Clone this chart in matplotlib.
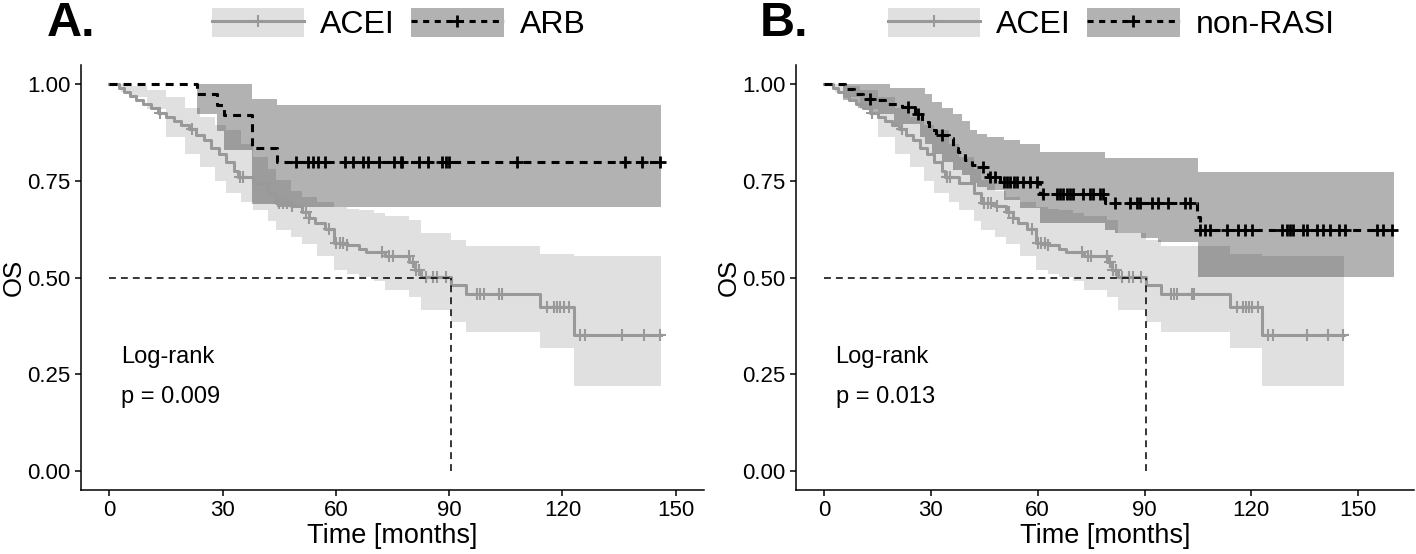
import numpy as np
import matplotlib.pyplot as plt
from matplotlib.lines import Line2D
from matplotlib.patches import Patch
from matplotlib.legend_handler import HandlerTuple

plt.rcParams['font.family'] = ['Liberation Sans', 'DejaVu Sans']

# ACEI (same curve in both panels)
acei_t = [0, 2.5, 4, 5.5, 7, 9, 11, 13, 15, 17, 19, 21, 23, 25, 27, 29, 31, 33, 34,
          38, 42, 44.2, 48, 51, 53, 54.5, 57, 59.5, 63, 66, 68, 73, 79.5, 81, 82.5,
          90.5, 94.5, 114, 123]
acei_s = [1.0, 0.99, 0.98, 0.97, 0.96, 0.95, 0.94, 0.925, 0.915, 0.905, 0.895, 0.885,
          0.87, 0.855, 0.835, 0.82, 0.80, 0.775, 0.76, 0.745, 0.72, 0.692, 0.685, 0.67,
          0.655, 0.64, 0.625, 0.59, 0.585, 0.575, 0.565, 0.555, 0.54, 0.52, 0.502,
          0.481, 0.457, 0.423, 0.350]
acei_ci_t = [0, 3, 6, 10, 15, 20, 24, 28, 31, 35, 38, 42, 44.2, 48, 51, 55, 59.5, 63,
             66, 70, 73, 79.5, 82.5, 90.5, 94.5, 114, 123]
acei_hi = [1.0, 1.0, 0.995, 0.985, 0.967, 0.94, 0.915, 0.895, 0.881, 0.845, 0.812,
           0.78, 0.752, 0.725, 0.709, 0.695, 0.683, 0.678, 0.674, 0.667, 0.66, 0.65,
           0.614, 0.597, 0.581, 0.562, 0.556]
acei_lo = [1.0, 0.98, 0.967, 0.935, 0.864, 0.82, 0.786, 0.75, 0.718, 0.695, 0.674,
           0.645, 0.623, 0.605, 0.588, 0.555, 0.519, 0.51, 0.502, 0.49, 0.468, 0.45,
           0.416, 0.386, 0.36, 0.317, 0.22]
acei_cens = [13.5, 21.8, 34.6, 35.4, 45, 46, 47, 48.5, 52, 53, 58.3, 60, 61, 62, 63,
             72.3, 74, 75, 79.4, 80.3, 81.2, 82, 83.8, 85.6, 86.9, 89.1, 97.4, 98.3,
             99.2, 103.2, 104.0, 115.9, 117.7, 118.6, 119.4, 120.3, 121.8, 124.7, 126,
             135.7, 141.6, 145.8]
acei_end = 146

# ARB (panel A)
arb_t = [0, 23.1, 28.5, 30.5, 37.7, 44.3]
arb_s = [1.0, 0.974, 0.947, 0.92, 0.835, 0.80]
arb_ci_t = [0, 23.1, 28.5, 30.5, 37.7, 44.3]
arb_hi = [1.0, 1.0, 1.0, 1.0, 0.963, 0.946]
arb_lo = [1.0, 0.924, 0.88, 0.829, 0.69, 0.683]
arb_cens = [49.5, 52.6, 53.9, 55.2, 57, 62.3, 64.5, 67.1, 68.4, 71.5, 75.5, 77.2, 77.6,
            82, 84.3, 88.2, 89.1, 90, 108, 136.6, 141, 145.8]
arb_end = 146

# non-RASI (panel B)
nr_t = [0, 6, 8.5, 11, 15, 17, 22, 25.5, 27.5, 29.5, 31.5, 35, 36.2, 37.5, 39.5, 41.5,
        44, 46, 49.5, 60.7, 79, 104.7, 105.5]
nr_s = [1.0, 0.989, 0.976, 0.963, 0.959, 0.950, 0.941, 0.924, 0.903, 0.881, 0.868,
        0.860, 0.834, 0.825, 0.804, 0.791, 0.786, 0.760, 0.748, 0.716, 0.692, 0.657,
        0.623]
nr_ci_t = [0, 5.4, 9.6, 12.9, 18.5, 19.5, 27, 28.4, 30.2, 33, 36.3, 38.7, 41, 42.9,
           45.7, 50.4, 55, 60.7, 79, 81.7, 89, 93.9, 105.1]
nr_hi = [1.0, 1.0, 1.0, 1.0, 0.99, 0.99, 0.99, 0.975, 0.955, 0.94, 0.924, 0.905, 0.881,
         0.872, 0.864, 0.855, 0.845, 0.825, 0.81, 0.81, 0.81, 0.81, 0.773]
nr_lo = [1.0, 0.959, 0.94, 0.924, 0.924, 0.898, 0.864, 0.845, 0.82, 0.80, 0.778, 0.765,
         0.745, 0.735, 0.726, 0.70, 0.68, 0.64, 0.623, 0.614, 0.601, 0.592, 0.502]
nr_cens = [12.9, 23.7, 26.5, 33.1, 44.7, 46.6, 48, 50.4, 51.3, 52.2, 53.2, 54.1, 56,
           57.9, 59.7, 61.6, 65.4, 66.3, 67.2, 68.2, 69.1, 70, 72.8, 74.7, 75.6, 77.5,
           78.4, 81.7, 86, 87.8, 88.8, 92, 93.9, 96.7, 101.4, 102.8, 105.6, 107, 108.4,
           113.1, 116.4, 118.3, 120.1, 128.6, 130, 130.9, 131.8, 134.6, 135.6, 138.4,
           140.2, 142.1, 144.5, 146.3, 155.2, 157.1, 159.5]
nr_end = 160

median_acei = 90.5
pvals = ['p = 0.009', 'p = 0.013']

GRAY = '#999999'


def ext(t, v, end):
    return np.append(t, end), np.append(v, v[-1])


def draw_curve(ax, t, s, ci_t, lo, hi, cens, end, color, dashed):
    tt, hh = ext(ci_t, hi, end)
    _, ll = ext(ci_t, lo, end)
    ax.fill_between(tt, ll, hh, step='post', color=color, alpha=0.3, lw=0, zorder=1)
    ts, ss = ext(t, s, end)
    kw = dict(color=color, lw=2.2, zorder=3)
    if dashed:
        kw['dashes'] = (2.6, 2.0)
    ax.step(ts, ss, where='post', **kw)
    # censor marks sit on the step function
    idx = np.searchsorted(t, cens, side='right') - 1
    ax.plot(cens, np.array(s)[idx], ls='none', marker='+', ms=9,
            mew=2.0 if dashed else 1.5, color=color, zorder=4)


def panel(ax, other, label, xlim):
    draw_curve(ax, acei_t, acei_s, acei_ci_t, acei_lo, acei_hi, acei_cens, acei_end,
               GRAY, False)
    draw_curve(ax, *other, 'black', True)

    # median survival lines
    ax.plot([0, median_acei], [0.5, 0.5], color='black', lw=1.1, dashes=(4.5, 3.3), zorder=5)
    ax.plot([median_acei, median_acei], [0, 0.5], color='black', lw=1.1, dashes=(4.5, 3.3), zorder=5)

    ax.set_xlim(*xlim)
    ax.set_ylim(-0.05, 1.05)
    ax.set_xticks([0, 30, 60, 90, 120, 150])
    ax.set_yticks([0, 0.25, 0.5, 0.75, 1.0])
    ax.set_yticklabels(['0.00', '0.25', '0.50', '0.75', '1.00'])
    for sp in ['top', 'right']:
        ax.spines[sp].set_visible(False)
    for sp in ['left', 'bottom']:
        ax.spines[sp].set_linewidth(1.1)
    ax.tick_params(labelsize=16, length=4, width=1.1, colors='black')
    ax.set_xlabel('Time [months]', fontsize=19.5, labelpad=1)
    ax.set_ylabel('OS', fontsize=18.5, labelpad=1)

    h1 = (Patch(facecolor=GRAY, alpha=0.3, lw=0),
          Line2D([], [], color=GRAY, lw=2.2, marker='+', ms=9, mew=1.5))
    h2 = (Patch(facecolor='black', alpha=0.3, lw=0),
          Line2D([], [], color='black', lw=2.2, dashes=(2.0, 1.8), marker='+', ms=9, mew=2))
    ax.legend([h1, h2], ['ACEI', label], ncol=2, frameon=False, loc='center',
              bbox_to_anchor=(0.51, 1.096), fontsize=23, handlelength=2.9,
              handleheight=1.0, handletextpad=0.5, columnspacing=0.5,
              handler_map={tuple: HandlerTuple(ndivide=1)}, borderaxespad=0)


fig = plt.figure(figsize=(14.16, 5.54), dpi=100)
axA = fig.add_axes([81 / 1416, 1 - 490 / 554, 623 / 1416, 425 / 554])
axB = fig.add_axes([796 / 1416, 1 - 490 / 554, 618 / 1416, 425 / 554])

panel(axA, (arb_t, arb_s, arb_ci_t, arb_lo, arb_hi, arb_cens, arb_end), 'ARB', (-7.5, 157.5))
panel(axB, (nr_t, nr_s, nr_ci_t, nr_lo, nr_hi, nr_cens, nr_end), 'non-RASI', (-7.9, 165.7))

for ax, p in zip([axA, axB], pvals):
    x0 = 3.2
    ax.text(x0, 0.295, 'Log-rank', fontsize=17, va='center')
    ax.text(x0, 0.19, p, fontsize=17, va='center')

fig.text(47 / 1416, 1 - 24 / 554, 'A.', fontsize=35, fontweight='bold', va='center')
fig.text(760 / 1416, 1 - 24 / 554, 'B.', fontsize=35, fontweight='bold', va='center')

fig.savefig('out.png', dpi=100)
